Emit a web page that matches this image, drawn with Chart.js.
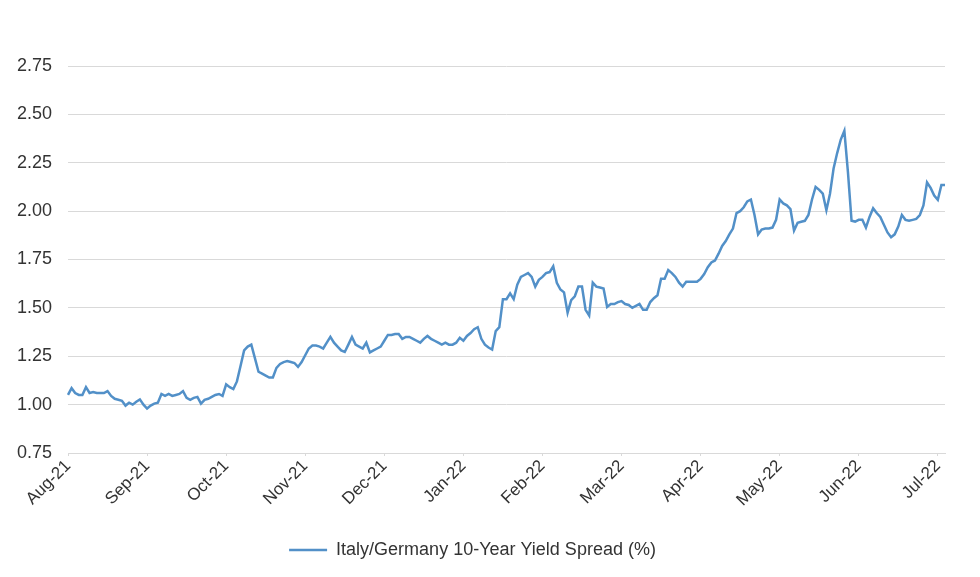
<!DOCTYPE html>
<html>
<head>
<meta charset="utf-8">
<script src="https://cdn.jsdelivr.net/npm/chart.js@4/dist/chart.umd.min.js"></script>
<style>
  html, body { margin: 0; padding: 0; background: #fff; }
  #wrap { width: 980px; height: 577px; }
</style>
</head>
<body>
<div id="wrap"><canvas id="chart"></canvas></div>
<script>
// Month tick labels, one every 22 trading days
const monthLabels = ['Aug-21', 'Sep-21', 'Oct-21', 'Nov-21', 'Dec-21', 'Jan-22',
  'Feb-22', 'Mar-22', 'Apr-22', 'May-22', 'Jun-22', 'Jul-22'];
const STEP = 22;

// Italy/Germany 10-year spread, daily
const spread = [
  1.05, 1.085, 1.06, 1.05, 1.05, 1.09, 1.06, 1.065, 1.06, 1.06,
  1.06, 1.07, 1.045, 1.03, 1.025, 1.02, 0.995, 1.01, 1.0, 1.015,
  1.027, 1.0, 0.98, 0.995, 1.005, 1.01, 1.055, 1.045, 1.055, 1.045,
  1.05, 1.055, 1.07, 1.035, 1.025, 1.035, 1.04, 1.005, 1.025, 1.03,
  1.04, 1.05, 1.055, 1.045, 1.105, 1.09, 1.08, 1.12, 1.2, 1.28,
  1.3, 1.31, 1.24, 1.17, 1.16, 1.15, 1.14, 1.14, 1.19, 1.21,
  1.22, 1.225, 1.22, 1.215, 1.195, 1.22, 1.255, 1.29, 1.305, 1.305,
  1.3, 1.29, 1.32, 1.35, 1.32, 1.3, 1.28, 1.272, 1.31, 1.35,
  1.31, 1.3, 1.29, 1.32, 1.27, 1.28, 1.29, 1.3, 1.33, 1.36,
  1.36, 1.365, 1.365, 1.34, 1.35, 1.35, 1.34, 1.33, 1.32, 1.34,
  1.355, 1.34, 1.33, 1.32, 1.31, 1.32, 1.31, 1.31, 1.32, 1.345,
  1.33, 1.355, 1.37, 1.39, 1.4, 1.34, 1.31, 1.295, 1.285, 1.38,
  1.4, 1.545, 1.545, 1.575, 1.545, 1.62, 1.66, 1.67, 1.68, 1.66,
  1.61, 1.645, 1.66, 1.68, 1.685, 1.715, 1.63, 1.595, 1.58, 1.475,
  1.54, 1.56, 1.61, 1.61, 1.49, 1.46, 1.63, 1.61, 1.605, 1.6,
  1.505, 1.52, 1.52, 1.53, 1.535, 1.52, 1.515, 1.5, 1.51, 1.52,
  1.49, 1.49, 1.53, 1.55, 1.565, 1.65, 1.65, 1.695, 1.68, 1.66,
  1.63, 1.61, 1.635, 1.635, 1.635, 1.635, 1.65, 1.675, 1.71, 1.735,
  1.745, 1.78, 1.82, 1.845, 1.88, 1.91, 1.99, 2.0, 2.02, 2.05,
  2.06, 1.98, 1.88, 1.905, 1.91, 1.91, 1.915, 1.955, 2.06, 2.04,
  2.03, 2.01, 1.9, 1.94, 1.945, 1.95, 1.98, 2.06, 2.125, 2.11,
  2.09, 2.005, 2.09, 2.22, 2.3, 2.37, 2.415, 2.2, 1.95, 1.946,
  1.955, 1.955, 1.915, 1.97, 2.015, 1.99, 1.97, 1.93, 1.89, 1.865,
  1.88, 1.92, 1.98, 1.955, 1.95, 1.955, 1.96, 1.98, 2.03, 2.148,
  2.12, 2.08, 2.058, 2.135, 2.135
];

const yTicks = [0.75, 1.0, 1.25, 1.5, 1.75, 2.0, 2.25, 2.5, 2.75];

const LINE_COLOR = '#5290c8';
const GRID_COLOR = '#d9d9d9';
const TEXT_COLOR = '#333333';
const FONT_FAMILY = "'Liberation Sans', Arial, sans-serif";

const labels = spread.map((v, i) => (i % STEP === 0 ? monthLabels[i / STEP] : ''));

new Chart(document.getElementById('chart'), {
  type: 'line',
  data: {
    labels: labels,
    datasets: [{
      label: 'Italy/Germany 10-Year Yield Spread (%)',
      data: spread,
      borderColor: LINE_COLOR,
      backgroundColor: LINE_COLOR,
      borderWidth: 2.5,
      pointRadius: 0,
      tension: 0
    }]
  },
  options: {
    responsive: true,
    maintainAspectRatio: false,
    animation: false,
    layout: {
      padding: { top: 66, right: 35, bottom: 8, left: 0 }
    },
    plugins: {
      tooltip: { enabled: false },
      legend: {
        position: 'bottom',
        labels: {
          color: TEXT_COLOR,
          font: { family: FONT_FAMILY, size: 18 },
          usePointStyle: true,
          pointStyle: 'line',
          pointStyleWidth: 38,
          boxWidth: 38,
          padding: 8
        }
      }
    },
    scales: {
      x: {
        type: 'category',
        offset: false,
        border: { display: true, color: GRID_COLOR, width: 1 },
        grid: {
          display: true,
          drawOnChartArea: false,
          drawTicks: true,
          tickLength: 3,
          color: ctx => (ctx.index % STEP === 0 ? GRID_COLOR : 'rgba(0,0,0,0)')
        },
        ticks: {
          autoSkip: false,
          maxRotation: 45,
          minRotation: 45,
          color: TEXT_COLOR,
          font: { family: FONT_FAMILY, size: 17 },
          padding: 0,
          callback: function (value, index) {
            return labels[index];
          }
        },
        afterFit: scale => { scale.height = 80; }
      },
      y: {
        min: 0.75,
        max: 2.75,
        border: { display: false },
        grid: { color: GRID_COLOR, drawTicks: false },
        afterBuildTicks: scale => {
          scale.ticks = yTicks.map(v => ({ value: v }));
        },
        ticks: {
          color: TEXT_COLOR,
          font: { family: FONT_FAMILY, size: 18 },
          padding: 16,
          callback: v => v.toFixed(2)
        },
        afterFit: scale => { scale.width = 68; }
      }
    }
  }
});
</script>
</body>
</html>
